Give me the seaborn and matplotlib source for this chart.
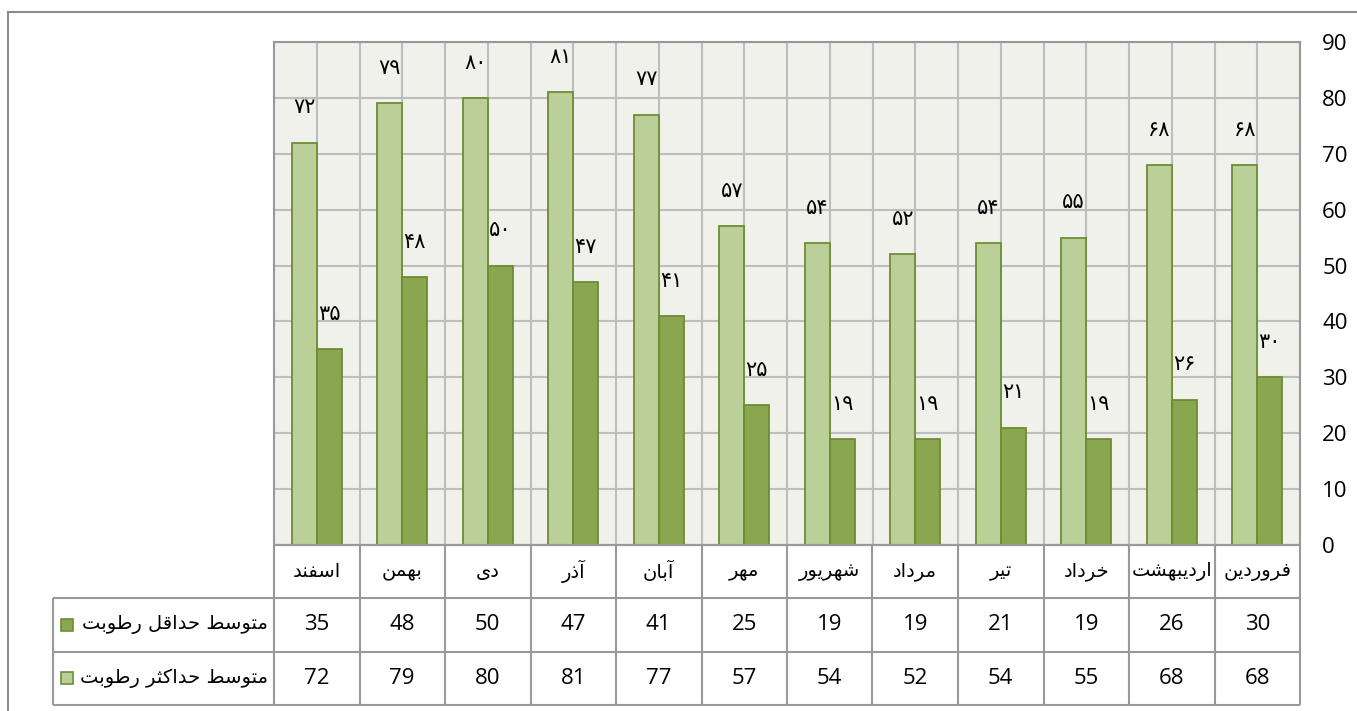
import unicodedata
import numpy as np
import pandas as pd
import matplotlib
matplotlib.use('Agg')
import matplotlib.pyplot as plt
from matplotlib.lines import Line2D
import seaborn as sns

# data (right-to-left months as drawn left to right)
months = ['اسفند', 'بهمن', 'دی', 'آذر', 'آبان', 'مهر', 'شهریور', 'مرداد', 'تیر', 'خرداد', 'اردیبهشت', 'فروردین']
min_rh = [35, 48, 50, 47, 41, 25, 19, 19, 21, 19, 26, 30]
max_rh = [72, 79, 80, 81, 77, 57, 54, 52, 54, 55, 68, 68]
row_min = 'متوسط حداقل رطوبت'
row_max = 'متوسط حداکثر رطوبت'
yticks = list(range(0, 100, 10))

light = '#BBCF98'
dark = '#8AA64E'
edge = '#6E8C36'
grid_c = '#BDBDBD'
line_c = '#999999'

# simple persian shaping: presentation forms + visual order
FORMS = {
    'ا': '\uFE8D\uFE8E', 'آ': '\uFE81\uFE82', 'د': '\uFEA9\uFEAA', 'ذ': '\uFEAB\uFEAC',
    'ر': '\uFEAD\uFEAE', 'و': '\uFEED\uFEEE',
    'ب': '\uFE8F\uFE90\uFE91\uFE92', 'ت': '\uFE95\uFE96\uFE97\uFE98',
    'ث': '\uFE99\uFE9A\uFE9B\uFE9C', 'ح': '\uFEA1\uFEA2\uFEA3\uFEA4',
    'خ': '\uFEA5\uFEA6\uFEA7\uFEA8', 'س': '\uFEB1\uFEB2\uFEB3\uFEB4',
    'ش': '\uFEB5\uFEB6\uFEB7\uFEB8', 'ط': '\uFEC1\uFEC2\uFEC3\uFEC4',
    'ف': '\uFED1\uFED2\uFED3\uFED4', 'ق': '\uFED5\uFED6\uFED7\uFED8',
    'ک': '\uFB8E\uFB8F\uFB90\uFB91', 'ل': '\uFEDD\uFEDE\uFEDF\uFEE0',
    'م': '\uFEE1\uFEE2\uFEE3\uFEE4', 'ن': '\uFEE5\uFEE6\uFEE7\uFEE8',
    'ه': '\uFEE9\uFEEA\uFEEB\uFEEC', 'ی': '\uFBFC\uFBFD\uFBFE\uFBFF',
}


def fa(text):
    text = unicodedata.normalize('NFC', text).replace('ي', 'ی').replace('ك', 'ک')
    out = []
    for i, ch in enumerate(text):
        if ch not in FORMS:
            out.append(ch)
            continue
        prev = text[i - 1] if i > 0 else ''
        nxt = text[i + 1] if i + 1 < len(text) else ''
        f = FORMS[ch]
        jp = prev in FORMS and len(FORMS[prev]) == 4
        jn = len(f) == 4 and nxt in FORMS
        if jp and jn:
            out.append(f[3])
        elif jp:
            out.append(f[1])
        elif jn:
            out.append(f[2])
        else:
            out.append(f[0])
    return ''.join(reversed(out))


def fa_num(v):
    return str(v).translate(str.maketrans('0123456789', '۰۱۲۳۴۵۶۷۸۹'))


df = pd.DataFrame({
    'month': months * 2,
    'value': max_rh + min_rh,
    'series': ['max'] * len(months) + ['min'] * len(months),
})

W, H = 1357, 711
fig = plt.figure(figsize=(W / 100, H / 100), dpi=100)

ax = fig.add_axes([274 / W, (H - 545) / H, 1026 / W, 503 / H])
sns.barplot(data=df, x='month', y='value', hue='series', hue_order=['max', 'min'],
            order=months, palette=[light, dark], saturation=1, width=0.585,
            errorbar=None, edgecolor=edge, linewidth=1.3, legend=False, ax=ax, zorder=3)

ax.set_facecolor('#EFF1EA')
ax.set_xlim(-0.5, len(months) - 0.5)
ax.set_ylim(0, 90)
ax.set_yticks(yticks)
ax.set_xticks(np.arange(len(months)))
ax.set_xticks(np.arange(-0.5, len(months), 1), minor=True)
ax.set_xticklabels([])
ax.set_xlabel('')
ax.set_ylabel('')
ax.grid(axis='y', color=grid_c, lw=1.5)
ax.grid(axis='x', which='both', color=grid_c, lw=1.5)
ax.set_axisbelow(True)
ax.tick_params(axis='x', which='both', length=0)
ax.tick_params(axis='y', left=False, labelleft=False, right=False, labelright=True,
               length=0, pad=16, labelsize=16)
for lab in ax.get_yticklabels():
    lab.set_fontfamily('Open Sans')
for s in ax.spines.values():
    s.set_color(line_c)
    s.set_linewidth(1.5)

# data labels in persian digits
for cont in ax.containers:
    for bar in cont:
        h = bar.get_height()
        ax.text(bar.get_x() + bar.get_width() / 2, h + 6.3, fa_num(int(round(h))),
                ha='center', va='center', fontsize=15, family='DejaVu Sans', zorder=4)

# data table
cw = 1026 / len(months)
x0 = -0.5 - (274 - 53) / cw
tab = fig.add_axes([53 / W, (H - 705) / H, (1300 - 53) / W, 160 / H])
tab.set_xlim(x0, len(months) - 0.5)
tab.set_ylim(0, 3)
tab.axis('off')
kw = dict(color=line_c, lw=1.5, clip_on=False)
tab.hlines([3], -0.5, len(months) - 0.5, **kw)
tab.hlines([0, 1, 2], x0, len(months) - 0.5, **kw)
tab.vlines(np.arange(-0.5, len(months), 1), 0, 3, **kw)
tab.vlines([x0], 0, 2, **kw)

for i, m in enumerate(months):
    tab.text(i, 2.5, fa(m), ha='center', va='center', fontsize=14, family='DejaVu Sans')
    tab.text(i, 1.5, str(min_rh[i]), ha='center', va='center', fontsize=16, family='Open Sans')
    tab.text(i, 0.5, str(max_rh[i]), ha='center', va='center', fontsize=16, family='Open Sans')

for yy, label, col in [(1.5, row_min, dark), (0.5, row_max, light)]:
    tab.text(-0.57, yy, fa(label), ha='right', va='center', fontsize=14, family='DejaVu Sans')
    tab.plot([x0 + 14 / cw], [yy], marker='s', ms=8, mfc=col, mec=edge, mew=1.2, clip_on=False)

# outer chart border
fig.add_artist(Line2D([8 / W, 8 / W], [0, (H - 12) / H], color='#8C8C8C', lw=1.5))
fig.add_artist(Line2D([8 / W, 1], [(H - 12) / H, (H - 12) / H], color='#8C8C8C', lw=1.5))

fig.savefig('out.png', dpi=100)
